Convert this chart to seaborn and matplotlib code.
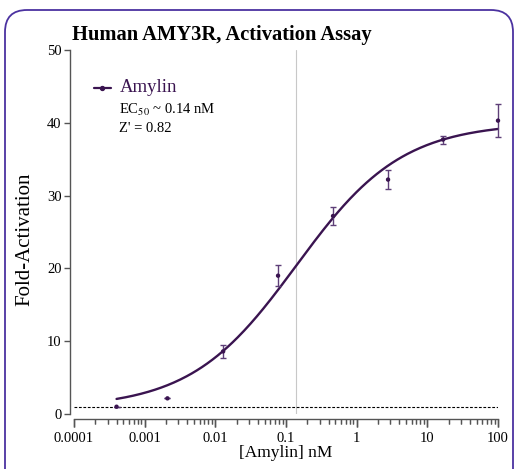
import numpy as np
import pandas as pd
import matplotlib
matplotlib.use('Agg')
import matplotlib.pyplot as plt
from matplotlib.patches import FancyBboxPatch
from matplotlib.transforms import IdentityTransform, ScaledTranslation, blended_transform_factory
from matplotlib.ticker import NullFormatter, FixedLocator, FixedFormatter
import seaborn as sns

# measured points
dose_nm = [0.0004, 0.0021, 0.0129, 0.0772, 0.463, 2.78, 16.7, 100.0]
fold_mean = [1.0, 2.15, 8.6, 19.0, 27.2, 32.2, 37.7, 40.3]
fold_err = [0.0, 0.0, 0.9, 1.45, 1.2, 1.3, 0.55, 2.25]

# 4PL fit parameters
ec50 = 0.14
hill = 0.58
bottom = 0.8
top = 40.0
baseline = 1.0

x_ticks = [0.0001, 0.001, 0.01, 0.1, 1, 10, 100]
x_ticklabels = ['0.0001', '0.001', '0.01', '0.1', '1', '10', '100']
y_ticks = [0, 10, 20, 30, 40, 50]

purple = '#3a1450'
bar_purple = '#5e3f78'
frame_col = '#4b32a0'
axis_col = '#555555'

sns.set_style('ticks')
plt.rcParams['font.family'] = ['Liberation Serif', 'DejaVu Serif']
plt.rcParams['mathtext.fontset'] = 'stix'
plt.rcParams['text.color'] = 'black'
plt.rcParams['axes.labelcolor'] = 'black'
plt.rcParams['xtick.color'] = 'black'
plt.rcParams['ytick.color'] = 'black'

fig = plt.figure(figsize=(5.15, 4.69), dpi=100)
ax = fig.add_axes([74 / 515, 1 - 414 / 469, 424 / 515, 364 / 469])
ax.set_xscale('log')

for s in ['top', 'right']:
    ax.spines[s].set_visible(False)
ax.spines['left'].set_position(('outward', 3))
ax.spines['bottom'].set_position(('outward', 3.6))
for s in ['left', 'bottom']:
    ax.spines[s].set_color(axis_col)
    ax.spines[s].set_linewidth(1.0)

xs = np.logspace(np.log10(dose_nm[0]), np.log10(dose_nm[-1]), 300)
curve = pd.DataFrame({'x': xs, 'y': bottom + (top - bottom) / (1 + (ec50 / xs) ** hill)})
pts = pd.DataFrame({'x': dose_nm, 'y': fold_mean, 'e': fold_err})

ax.axvline(ec50, color='#c8c8c8', lw=0.8, zorder=1)
ax.axhline(baseline, color='black', lw=0.8, ls=(0, (2.5, 1.5)), zorder=1)

sns.lineplot(data=curve, x='x', y='y', ax=ax, color=purple, lw=1.7, zorder=3, clip_on=False)
ax.errorbar(pts['x'], pts['y'], yerr=pts['e'], fmt='none', ecolor=bar_purple,
            elinewidth=1.0, capsize=2.5, capthick=1.0, zorder=4, clip_on=False)
sns.scatterplot(data=pts, x='x', y='y', ax=ax, color=purple, s=10, edgecolor='none',
                zorder=5, clip_on=False)

ax.set_xlabel('[Amylin] nM', fontsize=12.5, labelpad=0)
ax.set_ylabel('Fold-Activation', fontsize=15, labelpad=5)
ax.yaxis.set_label_coords(-0.094, 0.48)

# legend-like annotation
ax.plot([0.00019, 0.00033], [44.8, 44.8], color=purple, lw=1.6, clip_on=False)
ax.scatter([0.00025], [44.8], color=purple, s=8, zorder=5)
ax.text(0.00044, 44.8, 'Amylin', color=purple, fontsize=13.5, va='center')
ax.text(0.00044, 41.8, r'EC$_{50}$ ~ 0.14 nM', color='black', fontsize=10.5, va='center')
ax.text(0.00044, 39.2, "Z' = 0.82", color='black', fontsize=10.5, va='center')

fig.text(72 / 515, 1 - 35 / 469, 'Human AMY3R, Activation Assay', fontsize=14.8,
         fontweight='bold', va='center', ha='left')

ax.set_xlim(1e-4, 100)
ax.set_ylim(0, 50)
ax.xaxis.set_major_locator(FixedLocator(x_ticks))
ax.xaxis.set_major_formatter(FixedFormatter(x_ticklabels))
minor = [m * 10.0 ** e for e in range(-4, 2) for m in range(2, 10)]
ax.xaxis.set_minor_locator(FixedLocator(minor))
ax.xaxis.set_minor_formatter(NullFormatter())
ax.set_yticks(y_ticks)
ax.tick_params(axis='both', which='major', direction='out', length=4, width=1.0,
               color=axis_col, labelsize=10.5, pad=2)
ax.tick_params(axis='x', which='major', length=6, pad=3)
ax.tick_params(axis='x', which='minor', direction='out', length=3.5, width=0.9,
               color=axis_col, bottom=True)

# tick marks along the offset x spine, drawn explicitly so they always show
spine_tr = blended_transform_factory(ax.transData, ax.transAxes) + \
    ScaledTranslation(0, -3.6 / 72, fig.dpi_scale_trans)
px_per_axes = 364.0
ax.vlines(minor, 0, -3.5 / 72 * 100 / px_per_axes, colors=axis_col, lw=0.9,
          transform=spine_tr, clip_on=False)
ax.vlines(x_ticks, 0, -6 / 72 * 100 / px_per_axes, colors=axis_col, lw=1.0,
          transform=spine_tr, clip_on=False)

frame = FancyBboxPatch((5, -30), 508, 459 + 30, boxstyle='round,pad=0,rounding_size=22',
                       transform=IdentityTransform(), fill=False, edgecolor=frame_col, lw=1.3)
fig.patches.append(frame)

fig.savefig('out.png', dpi=100)
